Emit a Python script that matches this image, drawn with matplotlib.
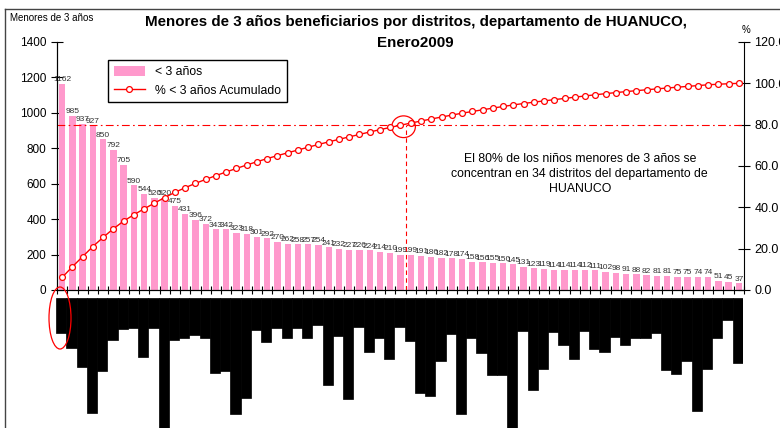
import numpy as np
import matplotlib
matplotlib.use("Agg")
import matplotlib.pyplot as plt
from matplotlib.patches import Ellipse
from matplotlib.lines import Line2D
from matplotlib.patches import Patch

plt.rcParams['font.family'] = ['Liberation Sans', 'DejaVu Sans']

# menores de 3 anos beneficiarios por distrito (ordenado de mayor a menor)
menores = [1162, 985, 937, 927, 850, 792, 705, 590, 544, 520, 520, 475, 431, 396,
           372, 343, 342, 323, 318, 301, 292, 270, 262, 258, 257, 254, 241, 232,
           227, 226, 224, 214, 210, 199, 199, 191, 186, 182, 178, 174, 158, 156,
           155, 150, 145, 131, 123, 119, 114, 114, 114, 112, 111, 102, 98, 91,
           88, 82, 81, 81, 75, 75, 74, 74, 51, 45, 37]

# largo de los nombres de distrito (salen como bloques negros bajo el eje)
largo_nombres = [35, 50, 69, 115, 73, 42, 31, 30, 59, 30, 130, 42, 40, 37,
                 40, 75, 73, 116, 100, 32, 44, 30, 40, 30, 40, 27, 87, 38,
                 101, 29, 54, 40, 61, 29, 43, 95, 98, 63, 36, 116, 40, 55,
                 77, 77, 130, 33, 92, 71, 34, 47, 61, 33, 51, 54, 39, 47,
                 40, 40, 35, 72, 76, 63, 113, 71, 40, 22, 65]

porcentaje_meta = 80
n_distritos_meta = 34

acumulado = np.cumsum(menores) / np.sum(menores) * 100
x = np.arange(len(menores))

fig = plt.figure(figsize=(7.8, 4.28), dpi=100)

# bloques negros de las etiquetas
axb = fig.add_axes([56 / 780, 0, 687 / 780, 130 / 428])
axb.bar(x, largo_nombres, width=1.0, color='black', edgecolor='black', linewidth=0.5)
axb.set_xlim(-0.5, len(menores) - 0.5)
axb.set_ylim(130, 0)
axb.axis('off')

ax = fig.add_axes([57 / 780, 1 - 290 / 428, 687 / 780, 248 / 428])
ax.bar(x, menores, width=0.62, color='#ff99cc', zorder=2)
for xi, v in zip(x, menores):
    ax.annotate(str(v), (xi, v), xytext=(0, 0.5), textcoords='offset points',
                ha='center', va='bottom', fontsize=6, color='#333333')
ax.set_ylim(0, 1400)
ax.set_yticks(np.arange(0, 1401, 200))
ax.set_xlim(-0.5, len(menores) - 0.5)
ax.set_xticks(np.arange(-0.5, len(menores), 1))
ax.set_xticklabels([])
ax.tick_params(axis='x', direction='inout', length=6, width=0.8)
ax.tick_params(axis='y', direction='inout', length=8, width=0.8, labelsize=8.5)
ax.spines['top'].set_visible(False)
ax.spines['right'].set_visible(False)
ax.patch.set_alpha(0)

ax2 = ax.twinx()
ax2.plot(x, acumulado, color='red', lw=1, marker='o', ms=4.2, mfc='white',
         mec='red', mew=0.9, zorder=3)
ax2.axhline(porcentaje_meta, color='red', lw=0.8, ls=(0, (7, 3, 1.5, 3)))
ax2.plot([n_distritos_meta - 0.5] * 2, [0, porcentaje_meta], color='red', lw=0.8,
         ls=(0, (4, 3)))
ax2.add_patch(Ellipse((n_distritos_meta - 0.7, porcentaje_meta - 1), 2.3, 10.5,
                      fill=False, ec='red', lw=0.9))
ax2.set_ylim(0, 120)
ax2.set_yticks(np.arange(0, 121, 20))
ax2.set_yticklabels(['%.1f' % t for t in np.arange(0, 121, 20)])
ax2.tick_params(axis='y', direction='inout', length=8, width=0.8, labelsize=9)
ax2.spines['top'].set_visible(False)

ax2.text(0.761, 0.468, 'El 80% de los niños menores de 3 años se\n'
         'concentran en 34 distritos del departamento de\nHUANUCO',
         transform=ax2.transAxes, ha='center', va='center', fontsize=8.8,
         linespacing=1.3)

handles = [Patch(facecolor='#ff99cc', edgecolor='none'),
           Line2D([], [], color='red', lw=1, marker='o', ms=4.2, mfc='white',
                  mec='red', mew=0.9)]
leg = fig.legend(handles, ['< 3 años', '% < 3 años Acumulado'],
                 loc='upper left', bbox_to_anchor=(108 / 780, 1 - 60 / 428),
                 bbox_transform=fig.transFigure, fontsize=8.8, fancybox=False,
                 edgecolor='black', framealpha=1, borderaxespad=0,
                 handlelength=2.6, handleheight=0.9, borderpad=0.45,
                 labelspacing=0.55)
leg.get_frame().set_linewidth(1)

fig.text(0.533, 1 - 15 / 428,
         'Menores de 3 años beneficiarios por distritos, departamento de HUANUCO,\nEnero2009',
         ha='center', va='top', fontsize=10.9, fontweight='bold', linespacing=1.6)
fig.text(10 / 780, 1 - 18 / 428, 'Menores de 3 años', fontsize=7, va='center')
fig.text(742 / 780, 1 - 30 / 428, '%', fontsize=7, va='center')

# marco del grafico y elipse de la esquina
fig.add_artist(Line2D([5 / 780, 5 / 780], [0, 1 - 9 / 428], color='#444444',
                      lw=1, transform=fig.transFigure))
fig.add_artist(Line2D([5 / 780, 1], [1 - 9 / 428, 1 - 9 / 428], color='#444444',
                      lw=1, transform=fig.transFigure))
fig.add_artist(Ellipse((60 / 780, 1 - 318 / 428), 22 / 780, 62 / 428,
                       transform=fig.transFigure, fill=False, ec='red', lw=0.9))

fig.savefig('out.png', dpi=100)
